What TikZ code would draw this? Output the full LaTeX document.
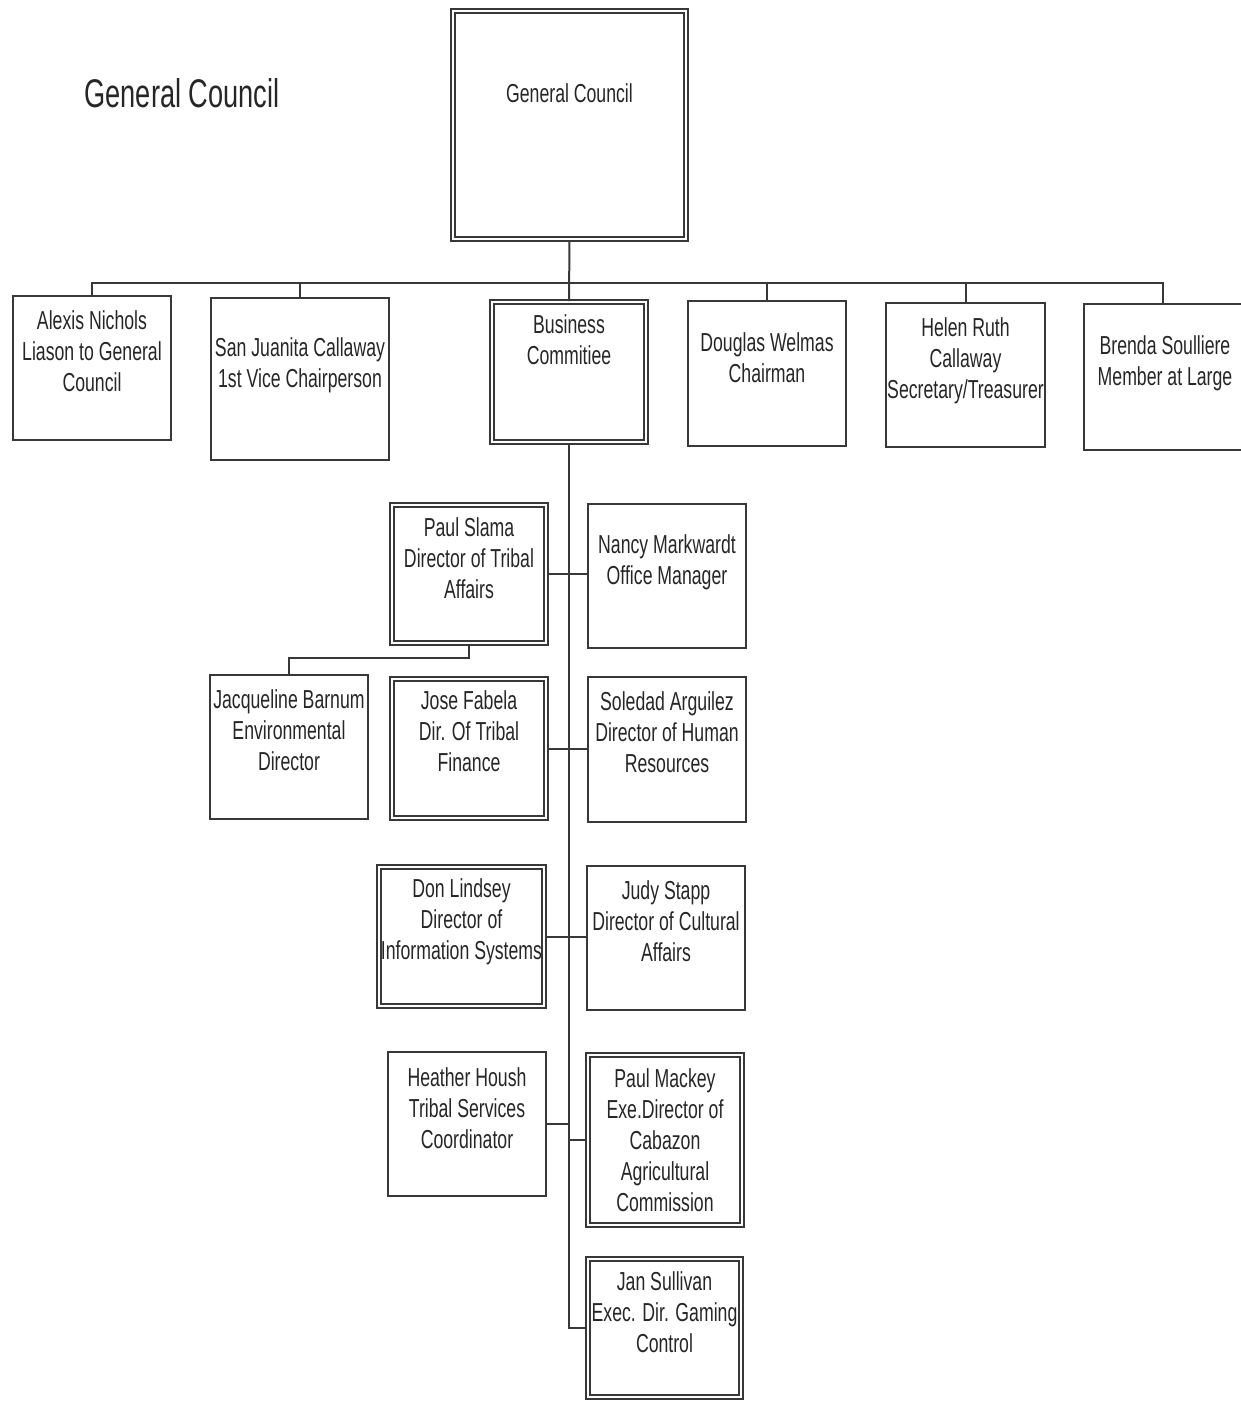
\documentclass[tikz,border=0pt]{standalone}
\usepackage{fontspec}
\newfontfamily\bxfont[FakeStretch=0.68]{Liberation Sans}
\begin{document}
\begin{tikzpicture}[x=1pt,y=-1pt,
  ink/.style={draw=black!78},
  sbox/.style={ink, line width=2pt, rectangle, inner sep=0pt},
  dbox/.style={ink, line width=2pt, double=white, double distance=2.4pt, rectangle, inner sep=0pt},
  txt/.style={anchor=north, inner sep=0pt, align=center, text=black!85,
    font={\bxfont\fontsize{26}{31}\selectfont}},
  conn/.style={ink, line width=2pt}]
\useasboundingbox (0,0) rectangle (1241,1401);

% title
\node[anchor=north, inner sep=0pt, text=black!85, font={\bxfont\fontsize{40}{46}\selectfont}] (title) at (182,78) {General Council};

% top box
\node[dbox, minimum width=233pt, minimum height=228pt] (gc) at (569.5,125) {};
\node[txt] (gct) at (569.5,83) {General Council};

% first row
\node[sbox, minimum width=158pt, minimum height=144pt] (alexis) at (92,368) {};
\node[txt] (alexist) at (92,310) {Alexis Nichols\\Liason to General\\Council};
\node[sbox, minimum width=178pt, minimum height=162pt] (sanj) at (300,379) {};
\node[txt] (sanjt) at (300,337) {San Juanita Callaway\\1st Vice Chairperson};
\node[dbox, minimum width=154pt, minimum height=140pt] (bc) at (569,372) {};
\node[txt] (bct) at (569,314) {Business\\Commitiee};
\node[sbox, minimum width=158pt, minimum height=145pt] (doug) at (767,373.5) {};
\node[txt] (dougt) at (767,332) {Douglas Welmas\\Chairman};
\node[sbox, minimum width=159pt, minimum height=144pt] (helen) at (965.5,375) {};
\node[txt] (helent) at (965.5,317) {Helen Ruth\\Callaway\\Secretary/Treasurer};
\node[sbox, minimum width=158pt, minimum height=146pt] (brenda) at (1163,377) {};
\node[txt] (brendat) at (1165,335) {Brenda Soulliere\\Member at Large};

% lower boxes
\node[dbox, minimum width=154pt, minimum height=138pt] (ps) at (469,574) {};
\node[txt] (pst) at (469,517) {Paul Slama\\Director of Tribal\\Affairs};
\node[sbox, minimum width=158pt, minimum height=144pt] (nancy) at (667,576) {};
\node[txt] (nancyt) at (667,534) {Nancy Markwardt\\Office Manager};
\node[sbox, minimum width=158pt, minimum height=144pt] (jac) at (289,747) {};
\node[txt] (jact) at (289,689) {Jacqueline Barnum\\Environmental\\Director};
\node[dbox, minimum width=154pt, minimum height=139pt] (jose) at (469,748.5) {};
\node[txt] (joset) at (469,690) {Jose Fabela\\Dir. Of Tribal\\Finance};
\node[sbox, minimum width=158pt, minimum height=145pt] (sol) at (667,749.5) {};
\node[txt] (solt) at (667,691) {Soledad Arguilez\\Director of Human\\Resources};
\node[dbox, minimum width=165pt, minimum height=139pt] (don) at (461.5,936.5) {};
\node[txt] (dont) at (461.5,878) {Don Lindsey\\Director of\\Information Systems};
\node[sbox, minimum width=158pt, minimum height=144pt] (judy) at (666,938) {};
\node[txt] (judyt) at (666,880) {Judy Stapp\\Director of Cultural\\Affairs};
\node[sbox, minimum width=158pt, minimum height=144pt] (heather) at (467,1124) {};
\node[txt] (heathert) at (467,1067) {Heather Housh\\Tribal Services\\Coordinator};
\node[dbox, minimum width=154pt, minimum height=170pt] (mackey) at (665,1140) {};
\node[txt] (mackeyt) at (665,1068) {Paul Mackey\\Exe.Director of\\Cabazon\\Agricultural\\Commission};
\node[dbox, minimum width=153pt, minimum height=138pt] (jan) at (664.5,1328) {};
\node[txt] (jant) at (664.5,1271) {Jan Sullivan\\Exec. Dir. Gaming\\Control};

% connectors
\coordinate (bus) at (569,283);
\draw[conn] (gc.south) -- (bc.north);
\draw[conn] (alexis.north) |- (bus) -| (brenda.north);
\draw[conn] (sanj.north) -- (sanj.north |- bus);
\draw[conn] (doug.north) -- (doug.north |- bus);
\draw[conn] (helen.north) -- (helen.north |- bus);

\draw[conn] (bc.south) |- (jan.west);
\draw[conn] (ps.east) -- (nancy.west |- ps.east);
\draw[conn] (jose.east) -- (sol.west |- jose.east);
\draw[conn] (don.east) -- (judy.west |- don.east);
\draw[conn] (heather.east) -- (bc.south |- heather.east);
\draw[conn] (bc.south |- mackey.west) -- (mackey.west);
\draw[conn] (ps.south) -- ++(0,14) -| (jac.north);
\end{tikzpicture}
\end{document}
